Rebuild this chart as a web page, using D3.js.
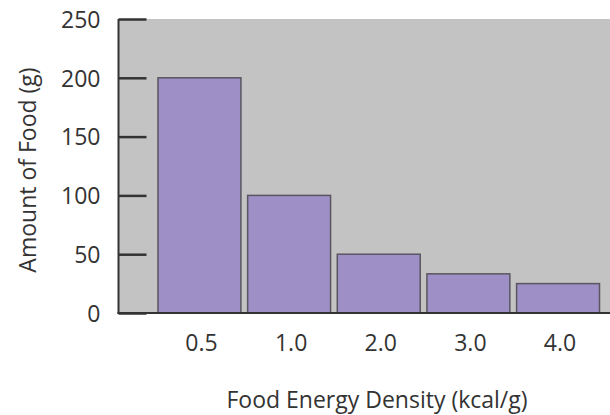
<!DOCTYPE html>
<html><head><meta charset="utf-8">
<script src="https://cdn.jsdelivr.net/npm/d3@7"></script>
<style>html,body{margin:0;padding:0;background:#fff;}svg{display:block;}</style>
</head><body><svg id="c" width="610" height="415"></svg>
<script>
const categories = ["0.5", "1.0", "2.0", "3.0", "4.0"];
const values = [200, 100, 50, 33.3, 25];
const yTicks = [0, 50, 100, 150, 200, 250];
const xTitle = "Food Energy Density (kcal/g)";
const yTitle = "Amount of Food (g)";

const svg = d3.select("#c");
const font = "'Open Sans', sans-serif";
const fs = 23;
const axisX = 118.5, plotRight = 610, y0 = 313, yTop = 19;

const x = d3.scaleBand().domain(categories).range([158, 599.5]).paddingInner(0.075).paddingOuter(0);
const y = d3.scaleLinear().domain([0, 250]).range([y0, yTop]);

svg.append("rect").attr("x", axisX).attr("y", yTop).attr("width", plotRight - axisX).attr("height", y0 - yTop).attr("fill", "#c4c3c4");

svg.selectAll("rect.bar").data(values).join("rect").attr("class", "bar")
  .attr("x", (d, i) => x(categories[i]))
  .attr("y", d => y(d))
  .attr("width", x.bandwidth())
  .attr("height", d => y0 - y(d))
  .attr("fill", "#9e8fc6").attr("stroke", "#5a5660").attr("stroke-width", 1.5);

// y axis
const yAxis = d3.axisLeft(y).tickValues(yTicks).tickSize(-28).tickPadding(18).tickFormat(d3.format("d"));
const ga = svg.append("g").attr("transform", `translate(${axisX},0)`).call(yAxis);
ga.select(".domain").remove();
ga.selectAll(".tick line").attr("stroke", "#333").attr("stroke-width", 2.5);
ga.selectAll(".tick text").attr("font-family", font).attr("font-size", fs).attr("fill", "#333").attr("dy", "0.36em");
svg.append("line").attr("x1", axisX).attr("x2", axisX).attr("y1", yTop).attr("y2", y0 + 1).attr("stroke", "#333").attr("stroke-width", 2);

// x axis
const xAxis = d3.axisBottom(x).tickSize(0);
const gx = svg.append("g").attr("transform", `translate(0,${y0})`).call(xAxis);
gx.select(".domain").remove();
gx.selectAll(".tick text").attr("font-family", font).attr("font-size", fs).attr("fill", "#333")
  .attr("y", 38).attr("dy", 0).attr("dx", 2);
svg.append("line").attr("x1", axisX - 1).attr("x2", plotRight).attr("y1", y0).attr("y2", y0).attr("stroke", "#333").attr("stroke-width", 2);

svg.append("text").attr("x", 377).attr("y", 408).attr("text-anchor", "middle")
  .attr("font-family", font).attr("font-size", fs).attr("fill", "#333").text(xTitle);
svg.append("text").attr("transform", "translate(36,170) rotate(-90)").attr("text-anchor", "middle")
  .attr("font-family", font).attr("font-size", fs).attr("fill", "#333").text(yTitle);
</script></body></html>
